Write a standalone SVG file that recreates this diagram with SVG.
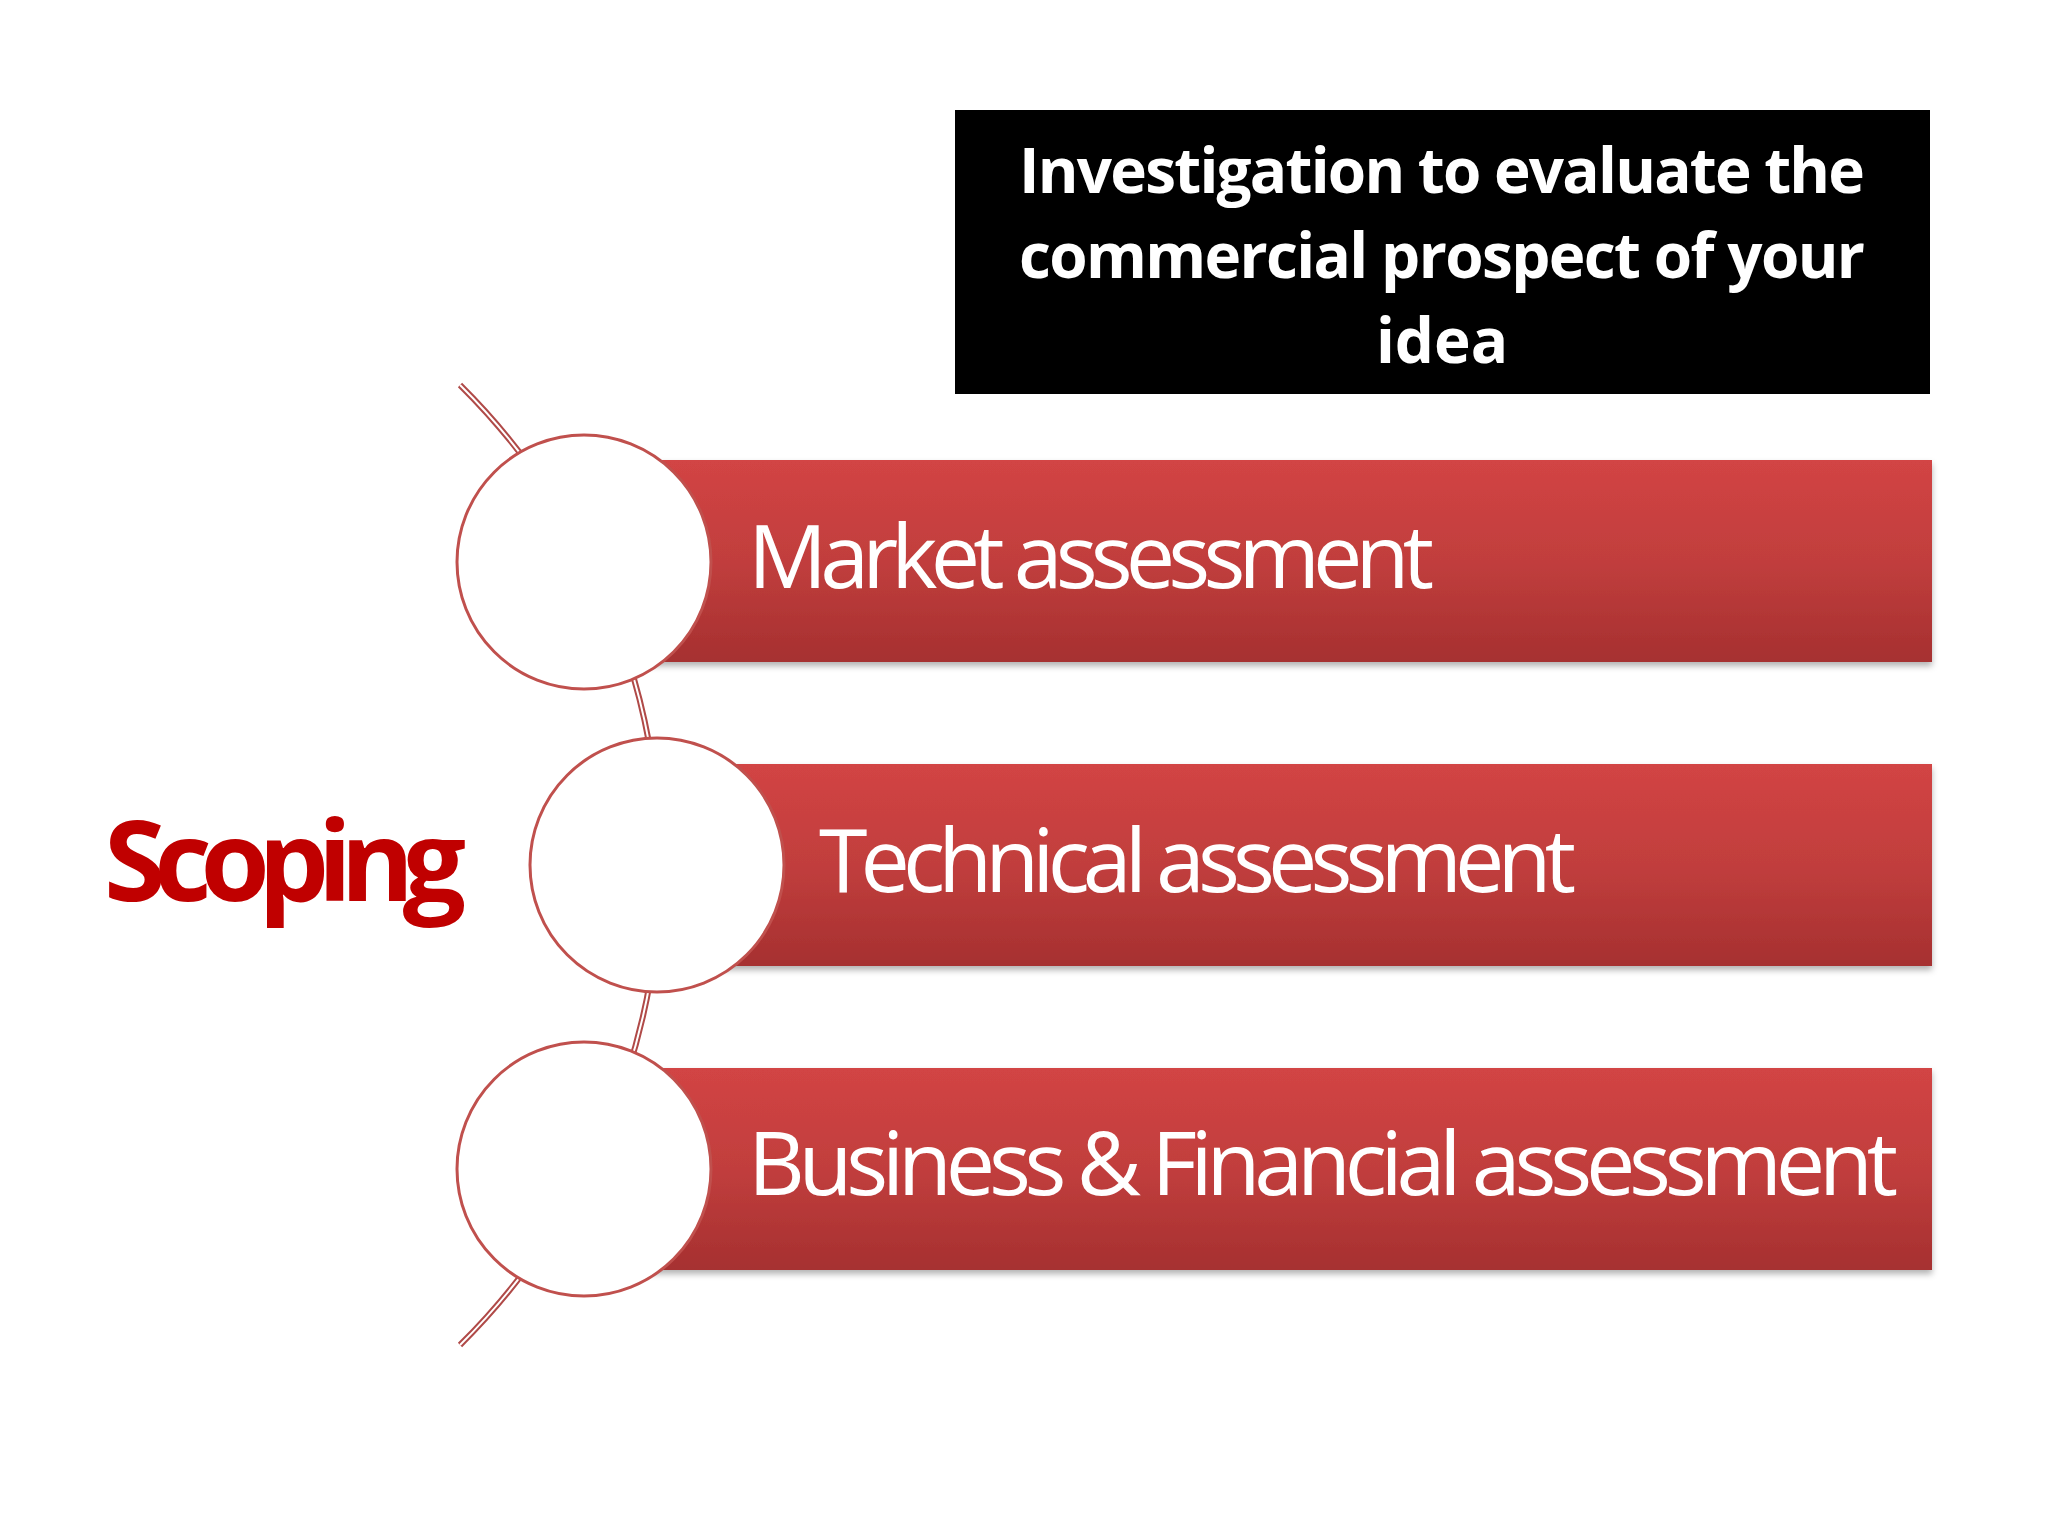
<svg xmlns="http://www.w3.org/2000/svg" width="2048" height="1536" viewBox="0 0 2048 1536">
<defs>
<linearGradient id="bar" x1="0" y1="0" x2="0" y2="1">
<stop offset="0" stop-color="#d24444"/><stop offset="0.5" stop-color="#c13e3d"/><stop offset="1" stop-color="#a63030"/>
</linearGradient>
<filter id="sh" x="-5%" y="-5%" width="110%" height="120%"><feDropShadow dx="0" dy="4" stdDeviation="3" flood-color="#000" flood-opacity="0.3"/></filter>
</defs>
<style>
.bar{fill:url(#bar);filter:url(#sh)}
.circ{fill:#fff;stroke:#c0504d;stroke-width:3}
.lbl{font-family:"Open Sans","Liberation Sans",sans-serif;font-size:88px;fill:#fff}
.hd{font-family:"Open Sans","Liberation Sans",sans-serif;font-weight:bold;font-size:62px;fill:#fff;text-anchor:middle}
</style>
<rect width="2048" height="1536" fill="#fff"/>
<g id="connectors">
<path d="M460,385 A676,676 0 0 1 460,1345" fill="none" stroke="#b04a48" stroke-width="6"/>
<path d="M460,385 A676,676 0 0 1 460,1345" fill="none" stroke="#fff" stroke-width="2"/>
</g>
<g id="header">
<rect x="955" y="110" width="975" height="284" fill="#000"/>
<text class="hd" x="1442" y="193" textLength="846">Investigation to evaluate the</text>
<text class="hd" x="1442" y="278" textLength="846">commercial prospect of your</text>
<text class="hd" x="1442" y="363">idea</text>
</g>
<g id="market">
<rect class="bar" x="620" y="460" width="1312" height="202"/>
<circle class="circ" cx="584" cy="562" r="127"/>
<text class="lbl" x="748" y="588" textLength="686">Market assessment</text>
</g>
<g id="technical">
<rect class="bar" x="693" y="764" width="1239" height="202"/>
<circle class="circ" cx="657" cy="865" r="127"/>
<text class="lbl" x="819" y="892" textLength="757">Technical assessment</text>
</g>
<g id="business">
<rect class="bar" x="620" y="1068" width="1312" height="202"/>
<circle class="circ" cx="584" cy="1169" r="127"/>
<text class="lbl" x="748" y="1195" textLength="1150">Business &amp; Financial assessment</text>
</g>
<g id="scoping">
<text x="104" y="901" font-family="'Open Sans','Liberation Sans',sans-serif" font-weight="bold" font-size="112" fill="#c00000" textLength="362">Scoping</text>
</g>
</svg>
